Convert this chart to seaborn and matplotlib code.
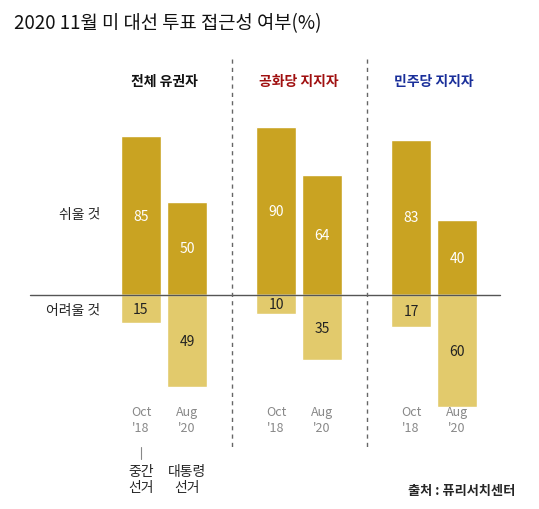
import matplotlib
matplotlib.use("Agg")
import matplotlib.pyplot as plt
import seaborn as sns
import pandas as pd

groups = ["전체 유권자", "공화당 지지자", "민주당 지지자"]
group_colors = ["#111111", "#a01010", "#1a2f9a"]
periods = ["Oct\n'18", "Aug\n'20"]
easy = [85, 50, 90, 64, 83, 40]
hard = [15, 49, 10, 35, 17, 60]

sns.set_theme(style="white")
plt.rcParams['font.family'] = ['Noto Sans CJK KR', 'DejaVu Sans']

W, H = 539, 510
fig = plt.figure(figsize=(W/100, H/100), dpi=100)
ax = fig.add_axes([0, 0, 1, 1])
px = 1.87
base = 296

xpos = [141, 187, 276, 322, 411, 457]
df = pd.DataFrame({"x": xpos, "easy": easy, "hard": [-h for h in hard]})
bw = 40 / 46
sns.barplot(data=df, x="x", y="easy", native_scale=True, color="#c9a322", width=bw, saturation=1, ax=ax)
sns.barplot(data=df, x="x", y="hard", native_scale=True, color="#e2ca6c", width=bw, saturation=1, ax=ax)
ax.set_xlim(0, W)
ax.set_ylim(-(H-base)/px, base/px)
ax.axis("off")

def Y(p):
    return (base - p)/px

for i, (x, e, h) in enumerate(zip(xpos, easy, hard)):
    ax.text(x, e/2, str(e), ha="center", va="center", color="white", fontsize=10)
    ax.text(x, -h/2, str(h), ha="center", va="center", color="#222222", fontsize=10)
    ax.text(x, Y(421), periods[i % 2], ha="center", va="center", color="#888888", fontsize=9, linespacing=1.3)

ax.plot([30, 500], [0, 0], color="#555555", lw=1)
for sx in [232, 367]:
    ax.plot([sx, sx], [Y(60), Y(448)], color="#666666", lw=1, ls=(0, (3, 3)))

for g, c, cx in zip(groups, group_colors, [164, 299, 434]):
    ax.text(cx, Y(82), g, ha="center", va="center", color=c, fontsize=10, fontweight="bold")

ax.text(14, Y(24), "2020 11월 미 대선 투표 접근성 여부(%)", ha="left", va="center", fontsize=13.5, color="#111111")
ax.text(100, Y(215), "쉬울 것", ha="right", va="center", fontsize=10)
ax.text(100, Y(311), "어려울 것", ha="right", va="center", fontsize=10)
ax.plot([141, 141], [Y(448), Y(460)], color="#888888", lw=0.8)
ax.text(141, Y(480), "중간\n선거", ha="center", va="center", fontsize=10, linespacing=1.2)
ax.text(187, Y(480), "대통령\n선거", ha="center", va="center", fontsize=10, linespacing=1.2)
ax.text(515, Y(491), "출처 : 퓨리서치센터", ha="right", va="center", fontsize=9.5, fontweight="bold")

fig.savefig("out.png", dpi=100)
